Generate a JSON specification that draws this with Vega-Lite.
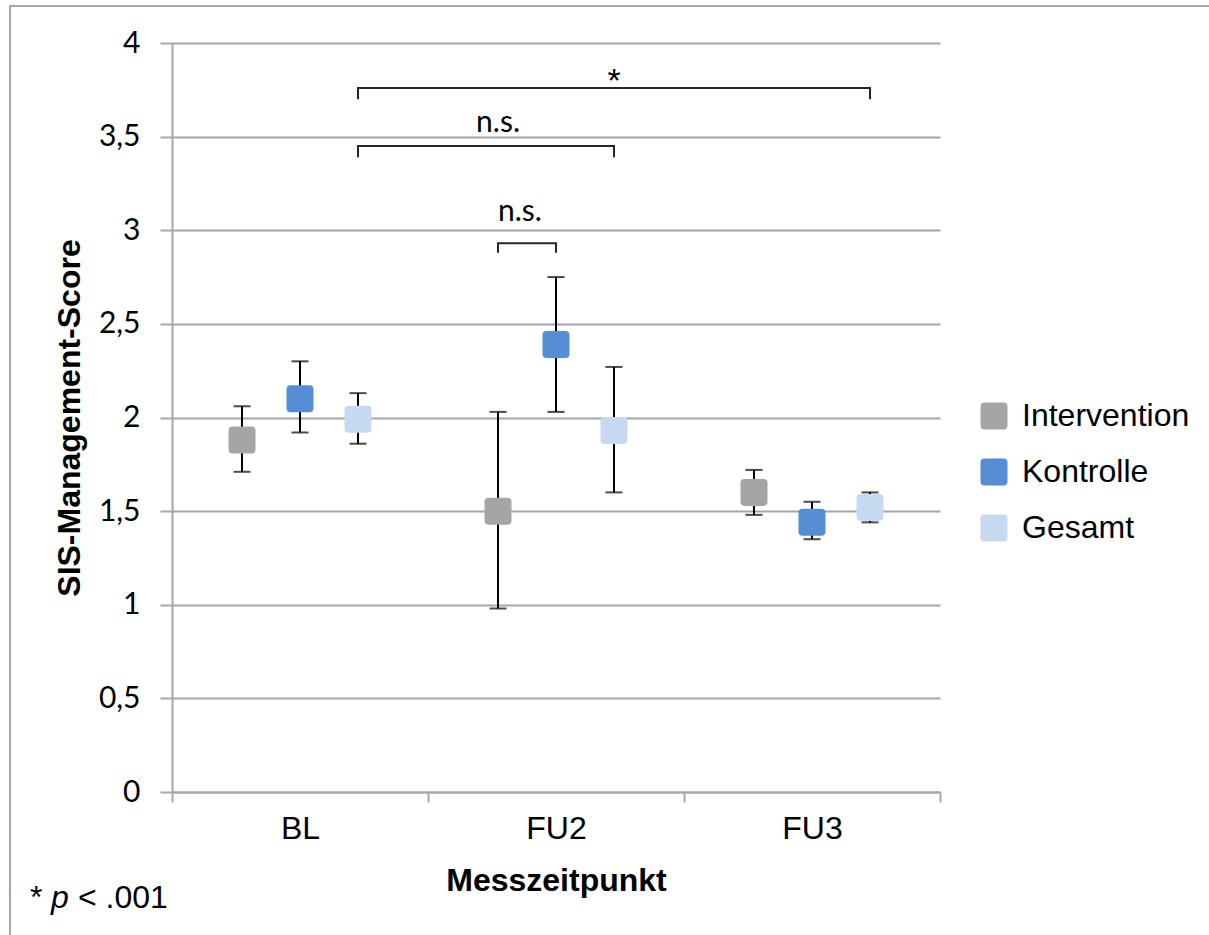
{
  "$schema": "https://vega.github.io/schema/vega-lite/v6.json",
  "width": 768,
  "height": 749,
  "autosize": {"type": "none"},
  "padding": {"left": 172, "top": 43, "right": 269, "bottom": 143},
  "background": "white",
  "config": {"view": {"stroke": null}, "font": "Liberation Sans"},
  "datasets": {
    "stats": [
      {"t": "BL", "g": "Intervention", "m": 1.88, "lo": 1.71, "hi": 2.06},
      {"t": "BL", "g": "Kontrolle", "m": 2.10, "lo": 1.92, "hi": 2.30},
      {"t": "BL", "g": "Gesamt", "m": 1.99, "lo": 1.86, "hi": 2.13},
      {"t": "FU2", "g": "Intervention", "m": 1.50, "lo": 0.98, "hi": 2.03},
      {"t": "FU2", "g": "Kontrolle", "m": 2.39, "lo": 2.03, "hi": 2.75},
      {"t": "FU2", "g": "Gesamt", "m": 1.93, "lo": 1.60, "hi": 2.27},
      {"t": "FU3", "g": "Intervention", "m": 1.60, "lo": 1.48, "hi": 1.72},
      {"t": "FU3", "g": "Kontrolle", "m": 1.44, "lo": 1.35, "hi": 1.55},
      {"t": "FU3", "g": "Gesamt", "m": 1.52, "lo": 1.44, "hi": 1.60}
    ],
    "brackets": [
      {"id": "a", "t": "BL", "g": "Gesamt", "y": 3.70, "o": 1},
      {"id": "a", "t": "BL", "g": "Gesamt", "y": 3.76, "o": 2},
      {"id": "a", "t": "FU3", "g": "Gesamt", "y": 3.76, "o": 3},
      {"id": "a", "t": "FU3", "g": "Gesamt", "y": 3.70, "o": 4},
      {"id": "b", "t": "BL", "g": "Gesamt", "y": 3.39, "o": 1},
      {"id": "b", "t": "BL", "g": "Gesamt", "y": 3.45, "o": 2},
      {"id": "b", "t": "FU2", "g": "Gesamt", "y": 3.45, "o": 3},
      {"id": "b", "t": "FU2", "g": "Gesamt", "y": 3.39, "o": 4},
      {"id": "c", "t": "FU2", "g": "Intervention", "y": 2.88, "o": 1},
      {"id": "c", "t": "FU2", "g": "Intervention", "y": 2.93, "o": 2},
      {"id": "c", "t": "FU2", "g": "Kontrolle", "y": 2.93, "o": 3},
      {"id": "c", "t": "FU2", "g": "Kontrolle", "y": 2.88, "o": 4}
    ],
    "star": [
      {"t": "FU2", "g": "Gesamt", "y": 3.74, "txt": "*"}
    ],
    "sig": [
      {"t": "FU2", "g": "Intervention", "y": 3.525, "txt": "n.s."}
    ],
    "sig2": [
      {"t": "FU2", "g": "Intervention", "y": 3.05, "txt": "n.s."}
    ],
    "one": [{}]
  },
  "layer": [
    {
      "data": {"name": "one"},
      "mark": {"type": "rect", "fill": null, "stroke": "#a6a6a6", "strokeWidth": 2},
      "encoding": {
        "x": {"datum": "BL", "bandPosition": -0.633, "type": "nominal", "scale": {"domain": ["BL", "FU2", "FU3"], "paddingInner": 0, "paddingOuter": 0}},
        "x2": {"datum": "FU3", "bandPosition": 2.1},
        "y": {"datum": 4.198, "type": "quantitative"},
        "y2": {"datum": -0.9}
      }
    },
    {
      "data": {"name": "brackets"},
      "mark": {"type": "line", "color": "#262626", "strokeWidth": 2},
      "encoding": {
        "x": {"field": "t", "type": "nominal"},
        "xOffset": {"field": "g", "type": "nominal"},
        "y": {"field": "y", "type": "quantitative"},
        "detail": {"field": "id"},
        "order": {"field": "o", "type": "quantitative"}
      }
    },
    {
      "data": {"name": "star"},
      "mark": {"type": "text", "font": "Liberation Sans", "fontSize": 34, "color": "black", "align": "center", "baseline": "alphabetic"},
      "encoding": {
        "x": {"field": "t", "type": "nominal"},
        "xOffset": {"field": "g", "type": "nominal"},
        "y": {"field": "y", "type": "quantitative"},
        "text": {"field": "txt"}
      }
    },
    {
      "data": {"name": "sig"},
      "mark": {"type": "text", "font": "Lato", "fontSize": 30, "color": "black", "align": "center", "baseline": "alphabetic"},
      "encoding": {
        "x": {"field": "t", "type": "nominal"},
        "xOffset": {"field": "g", "type": "nominal"},
        "y": {"field": "y", "type": "quantitative"},
        "text": {"field": "txt"}
      }
    },
    {
      "data": {"name": "sig2"},
      "mark": {"type": "text", "font": "Lato", "fontSize": 30, "color": "black", "align": "left", "baseline": "alphabetic"},
      "encoding": {
        "x": {"field": "t", "type": "nominal"},
        "xOffset": {"field": "g", "type": "nominal"},
        "y": {"field": "y", "type": "quantitative"},
        "text": {"field": "txt"}
      }
    },
    {
      "data": {"name": "stats"},
      "mark": {"type": "rule", "color": "black", "strokeWidth": 2},
      "encoding": {
        "x": {"field": "t", "type": "nominal"},
        "xOffset": {"field": "g", "type": "nominal"},
        "y": {"field": "lo", "type": "quantitative"},
        "y2": {"field": "hi"}
      }
    },
    {
      "data": {"name": "stats"},
      "mark": {"type": "tick", "color": "black", "size": 17, "thickness": 2, "orient": "horizontal"},
      "encoding": {
        "x": {"field": "t", "type": "nominal"},
        "xOffset": {"field": "g", "type": "nominal"},
        "y": {"field": "lo", "type": "quantitative"}
      }
    },
    {
      "data": {"name": "stats"},
      "mark": {"type": "tick", "color": "black", "size": 17, "thickness": 2, "orient": "horizontal"},
      "encoding": {
        "x": {"field": "t", "type": "nominal"},
        "xOffset": {"field": "g", "type": "nominal"},
        "y": {"field": "hi", "type": "quantitative"}
      }
    },
    {
      "data": {"name": "stats"},
      "mark": {"type": "point", "filled": true, "opacity": 1, "size": 729, "strokeWidth": 0,
        "shape": "M-0.7,-1H0.7Q1,-1,1,-0.7V0.7Q1,1,0.7,1H-0.7Q-1,1,-1,0.7V-0.7Q-1,-1,-0.7,-1Z"},
      "encoding": {
        "x": {
          "field": "t", "type": "nominal",
          "scale": {"domain": ["BL", "FU2", "FU3"], "paddingInner": 0, "paddingOuter": 0},
          "axis": {
            "title": "Messzeitpunkt", "titleFont": "Liberation Sans", "titleFontSize": 32, "titleFontWeight": "bold",
            "titleColor": "black", "titlePadding": 21,
            "labelFont": "Liberation Sans", "labelFontSize": 32, "labelColor": "black", "labelPadding": 26, "labelAngle": 0,
            "labelAlign": "center",
            "tickBand": "extent", "tickSize": 10, "tickColor": "#a6a6a6", "tickWidth": 2,
            "domainColor": "#a6a6a6", "domainWidth": 2, "grid": false
          }
        },
        "xOffset": {
          "field": "g", "type": "nominal",
          "scale": {"domain": ["Intervention", "Kontrolle", "Gesamt"], "paddingInner": 0, "paddingOuter": 0.707}
        },
        "y": {
          "field": "m", "type": "quantitative",
          "scale": {"domain": [0, 4], "nice": false, "zero": true},
          "axis": {
            "title": "SIS-Management-Score", "titleFont": "Liberation Sans", "titleFontSize": 32, "titleFontWeight": "bold",
            "titleColor": "black", "titlePadding": 12,
            "values": [0, 0.5, 1, 1.5, 2, 2.5, 3, 3.5, 4],
            "labelExpr": "replace(format(datum.value, '~g'), '.', ',')",
            "labelFont": "Lato", "labelFontSize": 30, "labelColor": "black", "labelPadding": 20,
            "tickSize": 12, "tickColor": "#a6a6a6", "tickWidth": 2,
            "domainColor": "#a6a6a6", "domainWidth": 2,
            "grid": true, "gridColor": "#a6a6a6", "gridWidth": 2
          }
        },
        "color": {
          "field": "g", "type": "nominal",
          "scale": {"domain": ["Intervention", "Kontrolle", "Gesamt"], "range": ["#a5a5a5", "#558ed5", "#c6d9f1"]},
          "legend": {
            "title": null, "orient": "none", "legendX": 806, "legendY": 357, "padding": 0,
            "labelFont": "Liberation Sans", "labelFontSize": 32, "labelColor": "black", "labelOffset": 12, "labelLimit": 400,
            "rowPadding": 24, "symbolSize": 729, "symbolStrokeWidth": 0, "symbolOpacity": 1,
            "symbolType": "M-0.7,-1H0.7Q1,-1,1,-0.7V0.7Q1,1,0.7,1H-0.7Q-1,1,-1,0.7V-0.7Q-1,-1,-0.7,-1Z"
          }
        }
      }
    },
    {
      "data": {"name": "one"},
      "mark": {"type": "text", "font": "Liberation Sans", "fontSize": 32, "color": "black", "align": "left", "baseline": "alphabetic", "dx": -270},
      "encoding": {"x": {"datum": "BL", "type": "nominal"}, "y": {"datum": -0.619, "type": "quantitative"}, "text": {"value": "*"}}
    },
    {
      "data": {"name": "one"},
      "mark": {"type": "text", "font": "Liberation Sans", "fontSize": 32, "fontStyle": "italic", "color": "black", "align": "left", "baseline": "alphabetic", "dx": -249},
      "encoding": {"x": {"datum": "BL", "type": "nominal"}, "y": {"datum": -0.619, "type": "quantitative"}, "text": {"value": "p"}}
    },
    {
      "data": {"name": "one"},
      "mark": {"type": "text", "font": "Liberation Sans", "fontSize": 32, "color": "black", "align": "left", "baseline": "alphabetic", "dx": -222},
      "encoding": {"x": {"datum": "BL", "type": "nominal"}, "y": {"datum": -0.619, "type": "quantitative"}, "text": {"value": "< .001"}}
    }
  ]
}
